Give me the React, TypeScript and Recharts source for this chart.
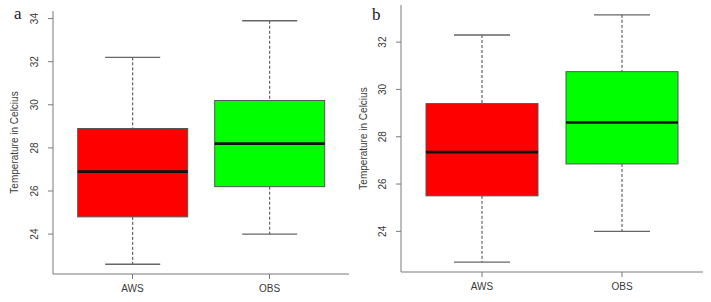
import React from 'react';
import { ComposedChart, Bar, XAxis, YAxis } from 'recharts';

const categories = ['AWS', 'OBS'];

// panel a
const aMin = [22.6, 24.0];
const aQ1 = [24.8, 26.2];
const aMedian = [26.9, 28.2];
const aQ3 = [28.9, 30.2];
const aMax = [32.2, 33.9];
const aTicks = [24, 26, 28, 30, 32, 34];

// panel b
const bMin = [22.7, 24.0];
const bQ1 = [25.5, 26.85];
const bMedian = [27.35, 28.6];
const bQ3 = [29.4, 30.75];
const bMax = [32.3, 33.15];
const bTicks = [24, 26, 28, 30, 32];

const boxColors = ['#ff0000', '#00ff00'];

type BoxRow = { name: string; min: number; q1: number; median: number; q3: number; max: number; color: string };

function buildRows(mn: number[], q1: number[], md: number[], q3: number[], mx: number[]): BoxRow[] {
  return categories.map((name, i) => ({
    name,
    min: mn[i],
    q1: q1[i],
    median: md[i],
    q3: q3[i],
    max: mx[i],
    color: boxColors[i],
  }));
}

// R-style axis range: data range stretched by 4% on each side
function rDomain(rows: BoxRow[]): [number, number] {
  const lo = Math.min(...rows.map((r) => r.min));
  const hi = Math.max(...rows.map((r) => r.max));
  const pad = (hi - lo) * 0.04;
  return [lo - pad, hi + pad];
}

const axisGray = '#7a7a7a';
const textGray = '#3a3a3a';
const sans = 'Arial, "Liberation Sans", sans-serif';

function BoxShape(props: any) {
  const { x, y, width, height, payload } = props;
  const top = Math.min(y, y + height);
  const h = Math.abs(height);
  const toPx = (v: number) => top + ((payload.max - v) / (payload.max - payload.min)) * h;
  const cx = x + width / 2;
  const capW = width / 2;
  const yMax = toPx(payload.max);
  const yQ3 = toPx(payload.q3);
  const yMed = toPx(payload.median);
  const yQ1 = toPx(payload.q1);
  const yMin = toPx(payload.min);
  return (
    <g>
      <line x1={cx} x2={cx} y1={yMax} y2={yQ3} stroke="#444" strokeDasharray="3 2" strokeWidth={1} />
      <line x1={cx} x2={cx} y1={yQ1} y2={yMin} stroke="#444" strokeDasharray="3 2" strokeWidth={1} />
      <line x1={cx - capW / 2} x2={cx + capW / 2} y1={yMax} y2={yMax} stroke="#666" strokeWidth={1.3} />
      <line x1={cx - capW / 2} x2={cx + capW / 2} y1={yMin} y2={yMin} stroke="#666" strokeWidth={1.3} />
      <rect x={x} y={yQ3} width={width} height={yQ1 - yQ3} fill={payload.color} stroke="#555" strokeWidth={1} />
      <line x1={x} x2={x + width} y1={yMed} y2={yMed} stroke="#111" strokeWidth={2.6} />
    </g>
  );
}

function YTick(props: any) {
  const { x, y, payload } = props;
  return (
    <text
      x={x - 8}
      y={y}
      transform={`rotate(-90, ${x - 8}, ${y})`}
      textAnchor="middle"
      fontSize={10}
      fontFamily={sans}
      fill={textGray}
    >
      {payload.value}
    </text>
  );
}

function Panel({
  rows,
  ticks,
  letter,
  width,
  margin,
  yWidth,
  xHeight,
  titleX,
  letterX,
  letterY,
}: {
  rows: BoxRow[];
  ticks: number[];
  letter: string;
  width: number;
  margin: { top: number; right: number; left: number; bottom: number };
  yWidth: number;
  xHeight: number;
  titleX: number;
  letterX: number;
  letterY: number;
}) {
  const plotTop = margin.top;
  const plotBottom = 302 - margin.bottom - xHeight;
  return (
    <div style={{ position: 'relative', width, height: 302 }}>
      <ComposedChart width={width} height={302} data={rows} margin={margin} barCategoryGap="10%">
        <XAxis
          dataKey="name"
          xAxisId="bottom"
          height={xHeight}
          padding={{ left: 11, right: 11 }}
          stroke={axisGray}
          tickSize={5}
          tickLine={{ stroke: axisGray }}
          tick={{ fontSize: 10, fontFamily: sans, fill: textGray, dy: 4 }}
        />
        <XAxis xAxisId="top" orientation="top" height={0} tick={false} tickLine={false} stroke={axisGray} />
        <YAxis
          domain={rDomain(rows)}
          ticks={ticks}
          width={yWidth}
          stroke={axisGray}
          tickSize={5}
          tick={<YTick />}
          allowDataOverflow
        />
        <YAxis yAxisId="right" orientation="right" width={0} tick={false} tickLine={false} stroke={axisGray} />
        <Bar
          xAxisId="bottom"
          dataKey={(d: BoxRow) => [d.min, d.max]}
          shape={<BoxShape />}
          isAnimationActive={false}
        />
      </ComposedChart>
      <svg
        width={width}
        height={302}
        style={{ position: 'absolute', left: 0, top: 0, pointerEvents: 'none' }}
      >
        <text
          x={titleX}
          y={(plotTop + plotBottom) / 2}
          transform={`rotate(-90, ${titleX}, ${(plotTop + plotBottom) / 2})`}
          textAnchor="middle"
          dominantBaseline="middle"
          fontSize={10}
          fontFamily={sans}
          fill={textGray}
        >
          Temperature in Celcius
        </text>
        <text x={letterX} y={letterY} fontSize={17} fontFamily='"Liberation Serif", "Times New Roman", serif' fill="#1a1a2e">
          {letter}
        </text>
      </svg>
    </div>
  );
}

export default function App() {
  const rowsA = buildRows(aMin, aQ1, aMedian, aQ3, aMax);
  const rowsB = buildRows(bMin, bQ1, bMedian, bQ3, bMax);
  return (
    <div style={{ position: 'absolute', left: 0, top: 0, width: 711, height: 302, background: '#fff', display: 'flex' }}>
      <Panel
        rows={rowsA}
        ticks={aTicks}
        letter="a"
        width={355}
        margin={{ top: 11, right: 6, left: 0, bottom: 0 }}
        yWidth={53}
        xHeight={28}
        titleX={15}
        letterX={14}
        letterY={19}
      />
      <Panel
        rows={rowsB}
        ticks={bTicks}
        letter="b"
        width={356}
        margin={{ top: 5, right: 8, left: 0, bottom: 0 }}
        yWidth={46}
        xHeight={30}
        titleX={9}
        letterX={17}
        letterY={20}
      />
    </div>
  );
}
